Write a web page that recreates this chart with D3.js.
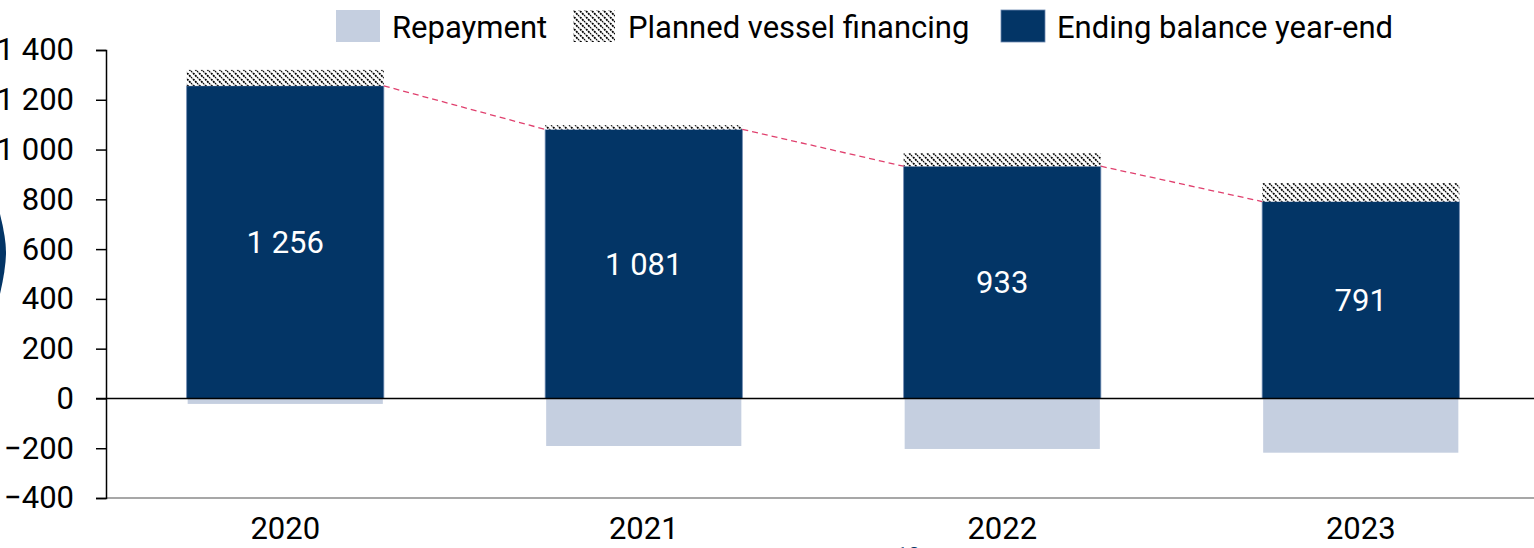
<!DOCTYPE html>
<html>
<head>
<meta charset="utf-8">
<script src="https://cdn.jsdelivr.net/npm/d3@7/dist/d3.min.js"></script>
<style>
  html, body { margin: 0; padding: 0; background: #ffffff; }
  svg { display: block; font-family: Roboto, 'Noto Sans', sans-serif; }
</style>
</head>
<body>
<svg id="chart" width="1534" height="548"></svg>
<script>
const years = ['2020', '2021', '2022', '2023'];
const endingBalance = [1256, 1081, 933, 791];
const plannedFinancing = [64, 17, 52, 74];
const repayment = [-22, -191, -203, -218];
const yTicks = [-400, -200, 0, 200, 400, 600, 800, 1000, 1200, 1400];
const legendItems = ['Repayment', 'Planned vessel financing', 'Ending balance year-end'];

const navy = '#033566';
const lightBlue = '#c5cfe0';
const lineRed = '#e0406e';
const fontSize = 31;

const chartWidth = 1534;
const plotLeft = 106;
const plotTop = 50;
const plotBottom = 498;

const svg = d3.select('#chart');

// hatch pattern for planned financing
const defs = svg.append('defs');
const pat = defs.append('pattern')
    .attr('id', 'hatch')
    .attr('patternUnits', 'userSpaceOnUse')
    .attr('width', 6)
    .attr('height', 6);
pat.append('rect')
    .attr('width', 6).attr('height', 6)
    .attr('fill', '#ffffff');
pat.append('path')
    .attr('d', 'M-1,-1 L7,7 M-4,2 L2,8 M4,-2 L10,4')
    .attr('stroke', '#000000')
    .attr('stroke-width', 1.8)
    .attr('stroke-dasharray', '2,0.9');

const x = d3.scaleBand()
    .domain(years)
    .range([plotLeft, 1540])
    .paddingInner(0.45)
    .paddingOuter(0.225);

const y = d3.scaleLinear()
    .domain([-400, 1400])
    .range([plotBottom, plotTop]);

const locale = d3.formatLocale({decimal: ',', thousands: ' ', grouping: [3], currency: ['', '']});
const fmt = locale.format(',d');

const rows = years.map((yr, i) => ({
  year: yr, end: endingBalance[i], planned: plannedFinancing[i], repay: repayment[i]
}));

// page decoration at the left edge
svg.append('path')
    .attr('d', 'M0,214 Q6,238 6,252 Q6,268 0,294 Z')
    .attr('fill', navy);

// bottom axis line
svg.append('line')
    .attr('x1', plotLeft).attr('x2', chartWidth)
    .attr('y1', plotBottom).attr('y2', plotBottom)
    .attr('stroke', '#8a8a8a')
    .attr('stroke-width', 1.5);

// repayment bars
svg.append('g').selectAll('rect')
  .data(rows)
  .enter().append('rect')
    .attr('x', d => x(d.year) + 1)
    .attr('width', x.bandwidth() - 2)
    .attr('y', y(0))
    .attr('height', d => y(d.repay) - y(0))
    .attr('fill', lightBlue);

// ending balance bars
svg.append('g').selectAll('rect')
  .data(rows)
  .enter().append('rect')
    .attr('x', d => x(d.year))
    .attr('width', x.bandwidth())
    .attr('y', d => y(d.end))
    .attr('height', d => y(0) - y(d.end))
    .attr('fill', navy)
    .attr('stroke', '#6c88b0')
    .attr('stroke-width', 0.8);

// planned vessel financing on top
svg.append('g').selectAll('rect')
  .data(rows)
  .enter().append('rect')
    .attr('x', d => x(d.year))
    .attr('width', x.bandwidth())
    .attr('y', d => y(d.end + d.planned))
    .attr('height', d => y(d.end) - y(d.end + d.planned))
    .attr('fill', 'url(#hatch)');

// dashed connector between bars
svg.append('g').selectAll('line')
  .data(rows.slice(0, -1))
  .enter().append('line')
    .attr('x1', d => x(d.year) + x.bandwidth())
    .attr('y1', d => y(d.end))
    .attr('x2', (d, i) => x(rows[i + 1].year))
    .attr('y2', (d, i) => y(rows[i + 1].end))
    .attr('stroke', lineRed)
    .attr('stroke-width', 1.3)
    .attr('stroke-dasharray', '6,4');

// zero line
svg.append('line')
    .attr('x1', plotLeft - 10).attr('x2', chartWidth)
    .attr('y1', y(0)).attr('y2', y(0))
    .attr('stroke', '#000000')
    .attr('stroke-width', 1.6);

// value labels
svg.append('g').selectAll('text')
  .data(rows)
  .enter().append('text')
    .attr('x', d => x(d.year) + x.bandwidth() / 2)
    .attr('y', d => (y(d.end) + y(0)) / 2)
    .attr('dy', '0.35em')
    .attr('text-anchor', 'middle')
    .attr('fill', '#ffffff')
    .attr('font-size', fontSize)
    .text(d => fmt(d.end));

// y axis
const yAxis = svg.append('g')
    .attr('transform', `translate(${plotLeft},0)`)
    .call(d3.axisLeft(y).tickValues(yTicks).tickFormat(fmt).tickSize(10).tickPadding(22));
yAxis.select('.domain').attr('stroke', '#000000').attr('stroke-width', 1.5);
yAxis.selectAll('.tick line').attr('stroke', '#000000').attr('stroke-width', 1.5);
yAxis.selectAll('.tick text')
    .attr('font-size', fontSize)
    .attr('font-family', 'Roboto, sans-serif')
    .attr('fill', '#000000');

// x labels
svg.append('g').selectAll('text')
  .data(years)
  .enter().append('text')
    .attr('x', d => x(d) + x.bandwidth() / 2)
    .attr('y', 539)
    .attr('text-anchor', 'middle')
    .attr('font-size', fontSize)
    .attr('fill', '#000000')
    .text(d => d);

// page number, mostly below the bottom edge as in the source
svg.append('text')
    .attr('x', 908)
    .attr('y', 563)
    .attr('text-anchor', 'middle')
    .attr('font-size', 22)
    .attr('fill', navy)
    .text('10');

// legend
const legendX = [336, 573, 1001];
const legendFill = [lightBlue, 'url(#hatch)', navy];
const lg = svg.append('g').selectAll('g')
  .data(legendItems)
  .enter().append('g')
    .attr('transform', (d, i) => `translate(${legendX[i]},10)`);
lg.append('rect')
    .attr('width', (d, i) => i === 1 ? 42 : 44)
    .attr('height', 32)
    .attr('fill', (d, i) => legendFill[i])
    .attr('stroke', (d, i) => i === 2 ? '#6c88b0' : 'none')
    .attr('stroke-width', 0.8);
lg.append('text')
    .attr('x', (d, i) => i === 1 ? 55 : 56)
    .attr('y', 28)
    .attr('font-size', fontSize)
    .attr('fill', '#000000')
    .text(d => d);
</script>
</body>
</html>
